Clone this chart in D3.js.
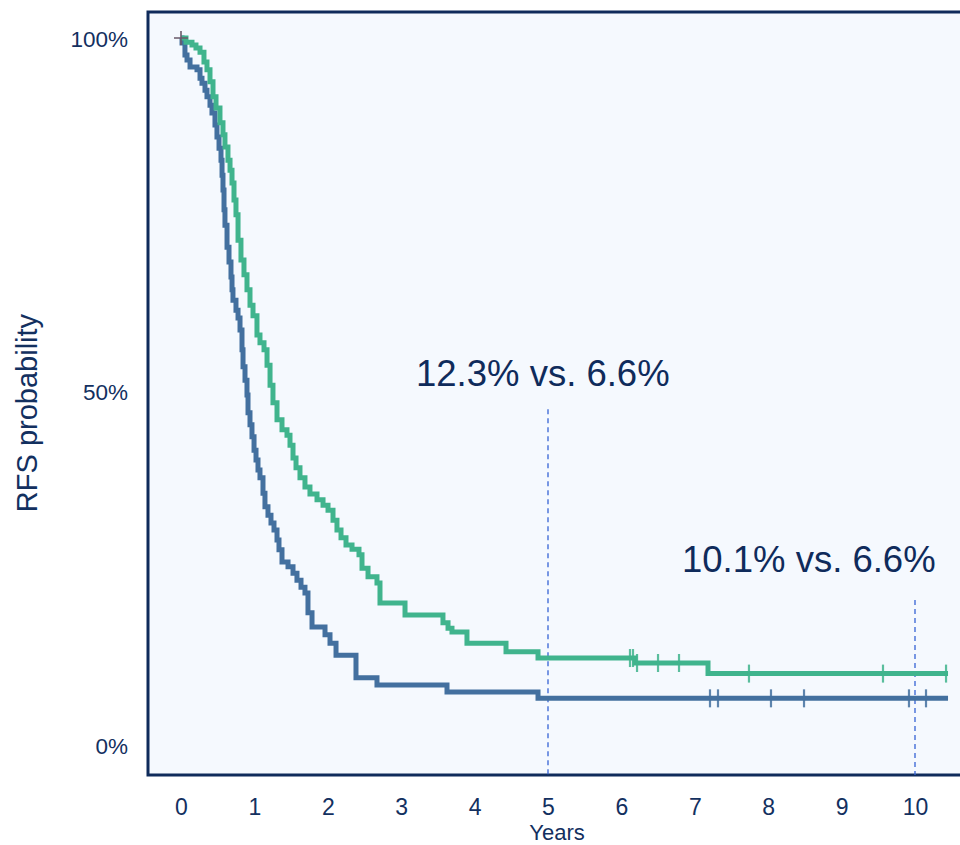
<!DOCTYPE html>
<html>
<head>
<meta charset="utf-8">
<script src="https://cdn.jsdelivr.net/npm/d3@7"></script>
<style>
  html, body { margin: 0; padding: 0; background: #ffffff; }
  svg { display: block; font-family: "Liberation Sans", Arial, sans-serif; }
</style>
</head>
<body>
<svg id="chart" width="960" height="845"></svg>
<script>
// ---- data ----
const xTicks = [0, 1, 2, 3, 4, 5, 6, 7, 8, 9, 10];
const yTicks = [0, 0.5, 1];
const yTickLabels = ["0%", "50%", "100%"];
const endTime = 10.45;

// Green arm: step times (years) and survival after each step
const greenTimes = [0.068,0.150,0.204,0.259,0.313,0.354,0.395,0.436,0.477,0.531,0.572,0.599,0.640,0.668,0.695,0.722,0.749,0.777,0.817,0.858,0.899,0.940,0.981,1.035,1.076,1.131,1.172,1.213,1.253,1.308,1.376,1.444,1.485,1.526,1.567,1.621,1.689,1.757,1.853,1.935,2.003,2.071,2.125,2.180,2.248,2.330,2.425,2.466,2.548,2.670,2.711,3.052,3.569,3.638,3.692,3.896,4.428,4.864,6.185,7.180];
const greenSurv  = [0.994,0.990,0.986,0.980,0.966,0.955,0.938,0.917,0.901,0.880,0.863,0.846,0.827,0.813,0.795,0.771,0.750,0.714,0.686,0.665,0.644,0.622,0.607,0.580,0.569,0.559,0.537,0.509,0.484,0.460,0.446,0.438,0.424,0.406,0.392,0.378,0.365,0.355,0.347,0.339,0.332,0.318,0.304,0.293,0.283,0.277,0.269,0.250,0.238,0.229,0.201,0.184,0.173,0.165,0.160,0.144,0.132,0.123,0.116,0.101];
const greenCensor = [6.117,6.158,6.213,6.499,6.785,7.738,9.564,10.423];

// Blue arm
const blueTimes = [0.014,0.054,0.082,0.123,0.218,0.259,0.286,0.327,0.354,0.395,0.422,0.463,0.490,0.518,0.545,0.559,0.572,0.586,0.599,0.627,0.654,0.681,0.695,0.708,0.749,0.777,0.804,0.831,0.845,0.872,0.899,0.913,0.940,0.967,0.995,1.022,1.049,1.076,1.117,1.144,1.185,1.226,1.267,1.308,1.335,1.376,1.458,1.526,1.580,1.635,1.689,1.730,1.785,1.962,2.030,2.112,2.384,2.670,3.624,4.864];
const blueSurv  = [0.993,0.976,0.969,0.959,0.955,0.943,0.936,0.926,0.917,0.905,0.894,0.877,0.860,0.844,0.827,0.806,0.785,0.757,0.735,0.704,0.683,0.662,0.644,0.629,0.615,0.604,0.587,0.559,0.535,0.516,0.495,0.470,0.453,0.436,0.417,0.403,0.389,0.378,0.356,0.337,0.325,0.314,0.304,0.290,0.276,0.259,0.252,0.243,0.233,0.223,0.215,0.187,0.167,0.156,0.144,0.127,0.095,0.085,0.075,0.066];
const blueCensor = [7.207,7.316,8.038,8.488,9.918,10.150];

const annotations = [
  { t: 5,  top: 0.475, label: "12.3% vs. 6.6%", lx: 416, ly: 386 },
  { t: 10, top: 0.205, label: "10.1% vs. 6.6%", lx: 682, ly: 572 }
];

// ---- drawing ----
const svg = d3.select("#chart");
const navy = "#13305f";
const green = "#40b48d";
const blue = "#43709f";

const x = d3.scaleLinear().domain([0, 10]).range([181, 915]);
const y = d3.scaleLinear().domain([0, 1]).range([745, 38]);

const plotLeft = 148, plotTop = 12, plotBottom = 775, plotRight = 975;

// plot background + frame
svg.append("rect")
  .attr("x", plotLeft).attr("y", plotTop)
  .attr("width", plotRight - plotLeft).attr("height", plotBottom - plotTop)
  .attr("fill", "#f5f9fe")
  .attr("stroke", "#0f2b5b").attr("stroke-width", 3);

// dashed reference lines
annotations.forEach(a => {
  svg.append("line")
    .attr("x1", x(a.t)).attr("x2", x(a.t))
    .attr("y1", y(a.top)).attr("y2", plotBottom)
    .attr("stroke", "#3563d4").attr("stroke-width", 1.3)
    .attr("stroke-dasharray", "5,4");
  svg.append("text")
    .attr("x", a.lx).attr("y", a.ly)
    .attr("fill", "#0f2b5b")
    .attr("font-size", 36.5)
    .text(a.label);
});

function stepPoints(times, surv) {
  const pts = [[0, 1]];
  times.forEach((t, i) => pts.push([t, surv[i]]));
  pts.push([endTime, surv[surv.length - 1]]);
  return pts;
}
function survAt(times, surv, t) {
  let s = 1;
  for (let i = 0; i < times.length; i++) { if (times[i] <= t) s = surv[i]; }
  return s;
}

const line = d3.line().x(d => x(d[0])).y(d => y(d[1])).curve(d3.curveStepAfter);

svg.append("path")
  .attr("d", line(stepPoints(blueTimes, blueSurv)))
  .attr("fill", "none").attr("stroke", blue).attr("stroke-width", 5)
  .attr("stroke-linejoin", "miter");
svg.append("path")
  .attr("d", line(stepPoints(greenTimes, greenSurv)))
  .attr("fill", "none").attr("stroke", green).attr("stroke-width", 5)
  .attr("stroke-linejoin", "miter");

// censor marks
function drawCensor(times, stimes, ssurv, color) {
  svg.selectAll(null).data(times).enter().append("line")
    .attr("x1", d => x(d)).attr("x2", d => x(d))
    .attr("y1", d => y(survAt(stimes, ssurv, d)) - 9)
    .attr("y2", d => y(survAt(stimes, ssurv, d)) + 9)
    .attr("stroke", color).attr("stroke-width", 2.2).attr("opacity", 0.85);
}
drawCensor(greenCensor, greenTimes, greenSurv, green);
drawCensor(blueCensor, blueTimes, blueSurv, blue);

// start cross
svg.append("path")
  .attr("d", `M${x(0) - 7},${y(1)}H${x(0) + 7}M${x(0)},${y(1) - 7}V${y(1) + 7}`)
  .attr("stroke", "#6a5a6a").attr("stroke-width", 1.6);

// x axis
const xAxis = svg.append("g")
  .attr("transform", `translate(0,${plotBottom})`)
  .call(d3.axisBottom(x).tickValues(xTicks).tickSize(0).tickFormat(d3.format("d")));
xAxis.select(".domain").remove();
xAxis.selectAll("text")
  .attr("y", 40).attr("dy", 0)
  .attr("fill", navy)
  .attr("font-size", 23)
  .attr("font-family", "Liberation Sans, Arial, sans-serif");

// y axis
const yAxis = svg.append("g")
  .attr("transform", "translate(128,0)")
  .call(d3.axisLeft(y).tickValues(yTicks).tickSize(0).tickFormat((d, i) => yTickLabels[i]));
yAxis.select(".domain").remove();
yAxis.selectAll("text")
  .attr("x", 0).attr("dy", "0.36em")
  .attr("fill", navy)
  .attr("font-size", 22.5)
  .attr("font-family", "Liberation Sans, Arial, sans-serif");

// axis titles
svg.append("text")
  .attr("x", 557).attr("y", 840)
  .attr("text-anchor", "middle")
  .attr("fill", navy).attr("font-size", 22)
  .text("Years");

svg.append("text")
  .attr("transform", "translate(37,413) rotate(-90)")
  .attr("text-anchor", "middle")
  .attr("fill", navy).attr("font-size", 29)
  .text("RFS probability");
</script>
</body>
</html>
